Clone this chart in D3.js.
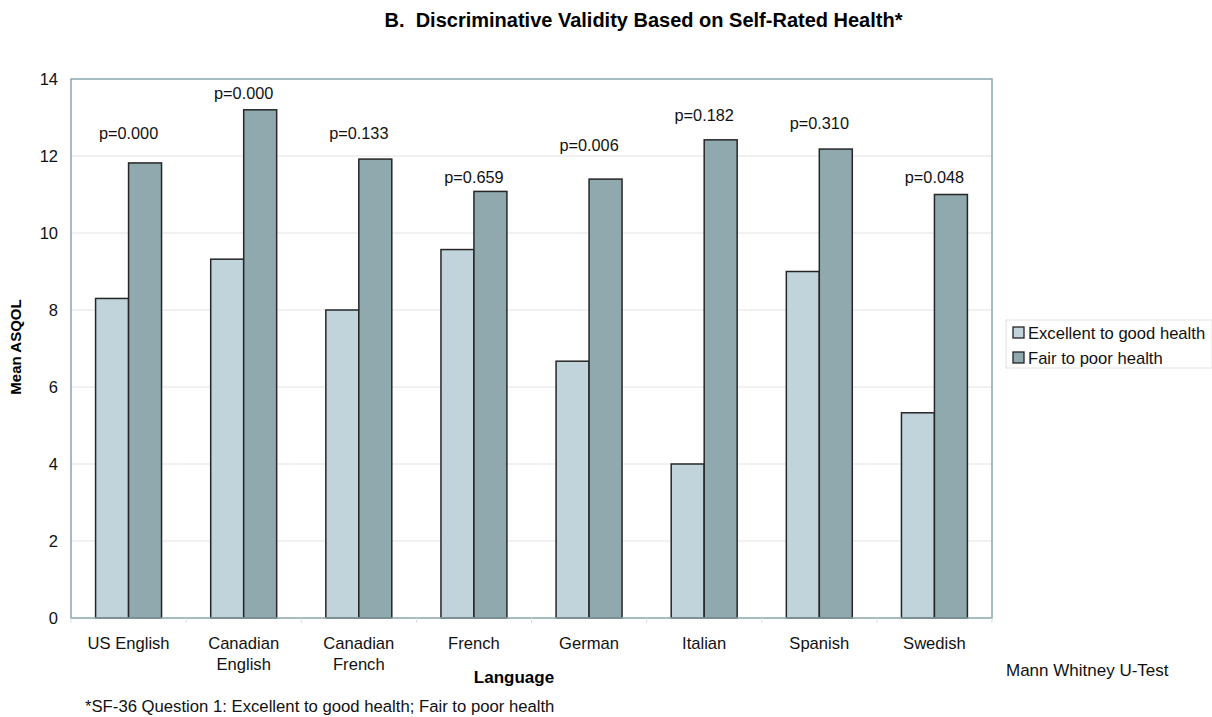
<!DOCTYPE html>
<html>
<head>
<meta charset="utf-8">
<script src="https://cdn.jsdelivr.net/npm/d3@7"></script>
<style>
  html, body { margin: 0; padding: 0; background: #fff; }
  svg { display: block; font-family: "Liberation Sans", Arial, sans-serif; }
</style>
</head>
<body>
<svg id="chart" width="1212" height="717"></svg>
<script>
// ---- Data ----
const categories = [["US English"], ["Canadian", "English"], ["Canadian", "French"], ["French"], ["German"], ["Italian"], ["Spanish"], ["Swedish"]];
const seriesNames = ["Excellent to good health", "Fair to poor health"];
const excellentToGood = [8.3, 9.32, 8.0, 9.57, 6.67, 4.0, 9.0, 5.33];
const fairToPoor = [11.82, 13.2, 11.92, 11.08, 11.4, 12.42, 12.18, 11.0];
const pValues = ["p=0.000", "p=0.000", "p=0.133", "p=0.659", "p=0.006", "p=0.182", "p=0.310", "p=0.048"];
const pLabelLevel = [12.6, 13.64, 12.6, 11.45, 12.29, 13.06, 12.86, 11.45];
const yTicks = [0, 2, 4, 6, 8, 10, 12, 14];

const colors = ["#c1d4dc", "#8fa9ae"];

// ---- Layout ----
const svg = d3.select("#chart");
const m = { left: 71, top: 79, right: 992, bottom: 618 };

const catKeys = categories.map(c => c.join(" "));
const x0 = d3.scaleBand().domain(catKeys).range([m.left, m.right]).paddingInner(0.427).paddingOuter(0.2135);
const x1 = d3.scaleBand().domain([0, 1]).range([0, x0.bandwidth()]);
const y = d3.scaleLinear().domain([0, 14]).range([m.bottom, m.top]);

// gridlines
svg.append("g")
  .selectAll("line")
  .data(yTicks.filter(t => t > 0 && t < 14))
  .join("line")
  .attr("x1", m.left).attr("x2", m.right)
  .attr("y1", d => y(d)).attr("y2", d => y(d))
  .attr("stroke", "#e3e3e3").attr("stroke-width", 1);

// bars
const groups = svg.append("g").selectAll("g")
  .data(catKeys.map((k, i) => ({ key: k, vals: [excellentToGood[i], fairToPoor[i]] })))
  .join("g")
  .attr("transform", d => `translate(${x0(d.key)},0)`);

groups.selectAll("rect")
  .data(d => d.vals.map((v, j) => ({ v, j })))
  .join("rect")
  .attr("x", d => x1(d.j))
  .attr("width", x1.bandwidth())
  .attr("y", d => y(d.v))
  .attr("height", d => y(0) - y(d.v))
  .attr("fill", d => colors[d.j])
  .attr("stroke", "#262626")
  .attr("stroke-width", 1.5);

// plot border
svg.append("rect")
  .attr("x", m.left).attr("y", m.top)
  .attr("width", m.right - m.left).attr("height", m.bottom - m.top)
  .attr("fill", "none").attr("stroke", "#8ba7ad").attr("stroke-width", 1.5);

// y axis
const yAxis = d3.axisLeft(y).tickValues(yTicks).tickSize(0).tickPadding(13);
const yg = svg.append("g").attr("transform", `translate(${m.left},0)`).call(yAxis);
yg.select(".domain").remove();
yg.selectAll("text").attr("font-size", 16.5).attr("fill", "#111").attr("font-family", "Liberation Sans, Arial, sans-serif");

// x axis
const xAxis = d3.axisBottom(x0).tickSize(0).tickFormat("");
const xg = svg.append("g").attr("transform", `translate(0,${m.bottom})`).call(xAxis);
xg.select(".domain").remove();
// category boundary ticks
const step = x0.step();
svg.append("g").selectAll("line")
  .data(d3.range(categories.length + 1))
  .join("line")
  .attr("x1", i => m.left + i * step).attr("x2", i => m.left + i * step)
  .attr("y1", m.bottom).attr("y2", m.bottom + 5)
  .attr("stroke", "#d8dfe1").attr("stroke-width", 1);

// category labels
svg.append("g").selectAll("text")
  .data(categories.map((c, i) => ({ c, k: catKeys[i] })))
  .join("text")
  .attr("x", d => x0(d.k) + x0.bandwidth() / 2)
  .attr("y", 649)
  .attr("text-anchor", "middle")
  .attr("font-size", 16.6)
  .attr("fill", "#111")
  .each(function (d) {
    d3.select(this).selectAll("tspan").data(d.c).join("tspan")
      .attr("x", x0(d.k) + x0.bandwidth() / 2)
      .attr("dy", (t, i) => i === 0 ? 0 : 21)
      .text(t => t);
  });

// p-value labels
svg.append("g").selectAll("text")
  .data(pValues.map((p, i) => ({ p, k: catKeys[i], lv: pLabelLevel[i] })))
  .join("text")
  .attr("x", d => x0(d.k) + x0.bandwidth() / 2)
  .attr("y", d => y(d.lv))
  .attr("dy", "0.35em")
  .attr("text-anchor", "middle")
  .attr("font-size", 16.3)
  .attr("fill", "#111")
  .text(d => d.p);

// title
svg.append("text")
  .attr("x", 643.5).attr("y", 27)
  .attr("text-anchor", "middle")
  .attr("font-size", 20).attr("font-weight", "bold")
  .attr("fill", "#000")
  .attr("xml:space", "preserve")
  .text("B.  Discriminative Validity Based on Self-Rated Health*");

// y axis title
svg.append("text")
  .attr("transform", "translate(21,347) rotate(-90)")
  .attr("text-anchor", "middle")
  .attr("font-size", 15).attr("font-weight", "bold")
  .attr("fill", "#000")
  .text("Mean ASQOL");

// x axis title
svg.append("text")
  .attr("x", 514).attr("y", 683)
  .attr("text-anchor", "middle")
  .attr("font-size", 17).attr("font-weight", "bold")
  .attr("fill", "#000")
  .text("Language");

// Mann Whitney
svg.append("text")
  .attr("x", 1006).attr("y", 676)
  .attr("font-size", 17)
  .attr("fill", "#111")
  .text("Mann Whitney U-Test");

// footnote
svg.append("text")
  .attr("x", 85).attr("y", 712)
  .attr("font-size", 16.7)
  .attr("fill", "#111")
  .text("*SF-36 Question 1: Excellent to good health; Fair to poor health");

// legend
const lg = svg.append("g");
lg.append("rect")
  .attr("x", 1006).attr("y", 320).attr("width", 206).attr("height", 48)
  .attr("fill", "#fff").attr("stroke", "#e2e2e2").attr("stroke-width", 1);
const items = lg.selectAll("g.item").data(seriesNames).join("g").attr("class", "item")
  .attr("transform", (d, i) => `translate(1013,${333 + i * 25})`);
items.append("rect")
  .attr("x", 0).attr("y", -6).attr("width", 11).attr("height", 11)
  .attr("fill", (d, i) => colors[i]).attr("stroke", "#222").attr("stroke-width", 1.3);
items.append("text")
  .attr("x", 15).attr("y", 0).attr("dy", "0.35em")
  .attr("font-size", 16.6).attr("fill", "#111")
  .text(d => d);
</script>
</body>
</html>
